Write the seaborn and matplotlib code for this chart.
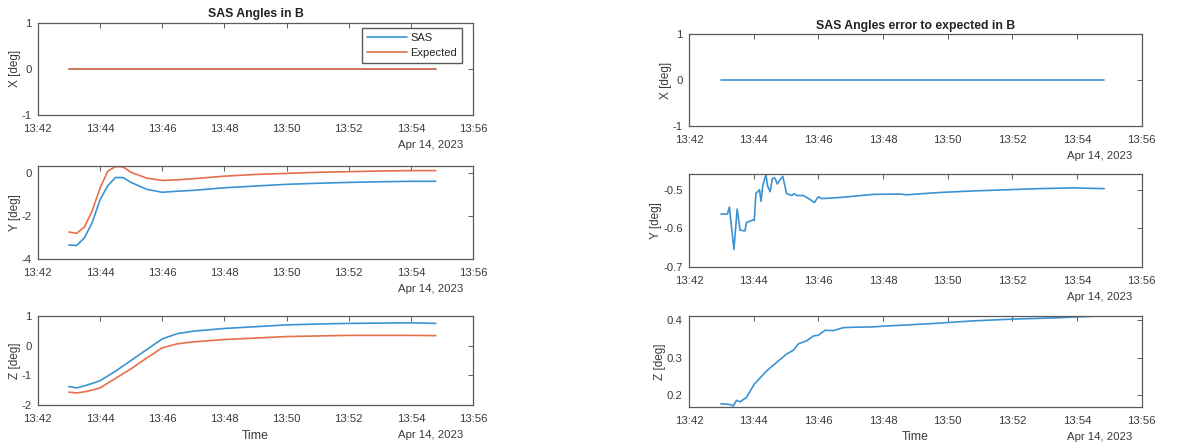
import numpy as np
import pandas as pd
import matplotlib
matplotlib.use("Agg")
import matplotlib.pyplot as plt
import matplotlib.dates as mdates
import seaborn as sns

# start of the time axis; all times below are minutes after it
T_START = "2023-04-14 13:42:00"
T_END = "2023-04-14 13:56:00"
DATE_LABEL = "Apr 14, 2023"

# left column: SAS vs expected angles
ang_min = [1.0, 1.25, 1.5, 1.75, 2.0, 2.25, 2.5, 2.75, 3.0, 3.5, 4.0, 4.5,
           5.0, 6.0, 7.0, 8.0, 9.0, 10.0, 11.0, 12.0, 12.8]
x_sas = [0.0] * len(ang_min)
x_exp = [0.0] * len(ang_min)
y_sas = [-3.33, -3.36, -3.0, -2.3, -1.24, -0.58, -0.19, -0.2, -0.42, -0.74, -0.88, -0.83,
         -0.79, -0.67, -0.59, -0.51, -0.46, -0.42, -0.39, -0.37, -0.37]
y_exp = [-2.73, -2.79, -2.5, -1.75, -0.7, 0.1, 0.32, 0.3, 0.05, -0.22, -0.33, -0.3,
         -0.25, -0.13, -0.05, 0.0, 0.05, 0.08, 0.11, 0.13, 0.13]
z_sas = [-1.37, -1.42, -1.35, -1.27, -1.18, -1.02, -0.86, -0.68, -0.5, -0.14, 0.22, 0.4,
         0.48, 0.57, 0.63, 0.69, 0.72, 0.74, 0.75, 0.76, 0.74]
z_exp = [-1.56, -1.59, -1.55, -1.49, -1.42, -1.26, -1.1, -0.94, -0.78, -0.42, -0.08, 0.06,
         0.12, 0.2, 0.25, 0.3, 0.32, 0.34, 0.34, 0.34, 0.33]

# right column: error to expected
errx_min = [0.99, 12.84]
errx = [0.0, 0.0]

erry_min = [0.99, 1.19, 1.25, 1.39, 1.49, 1.58, 1.73, 1.78, 1.99, 2.02, 2.07, 2.18, 2.23,
            2.28, 2.38, 2.43, 2.51, 2.58, 2.66, 2.73, 2.81, 2.9, 3.02, 3.18, 3.25, 3.33,
            3.54, 3.74, 3.88, 4.0, 4.1, 4.67, 5.7, 6.53, 6.73, 7.76, 8.79, 9.82, 10.86,
            11.89, 12.3, 12.84]
erry = [-0.563, -0.563, -0.545, -0.655, -0.55, -0.605, -0.607, -0.585, -0.578, -0.58,
        -0.51, -0.50, -0.53, -0.49, -0.46, -0.49, -0.505, -0.47, -0.47, -0.485, -0.475,
        -0.465, -0.51, -0.515, -0.51, -0.515, -0.515, -0.525, -0.533, -0.518, -0.523,
        -0.52, -0.512, -0.511, -0.513, -0.507, -0.503, -0.5, -0.497, -0.495, -0.496, -0.497]

errz_min = [0.99, 1.27, 1.37, 1.47, 1.58, 1.78, 2.02, 2.4, 2.81, 3.02, 3.23, 3.38, 3.64,
            3.85, 4.0, 4.21, 4.46, 4.77, 5.08, 5.7, 6.01, 6.73, 7.76, 8.07, 8.79, 10.13,
            11.37, 12.09, 12.84]
errz = [0.178, 0.176, 0.172, 0.187, 0.183, 0.195, 0.23, 0.265, 0.295, 0.31, 0.32, 0.337,
        0.345, 0.358, 0.36, 0.373, 0.372, 0.38, 0.381, 0.382, 0.384, 0.387, 0.392, 0.394,
        0.398, 0.403, 0.406, 0.409, 0.411]

BLUE = "#3b93d3"
ORANGE = "#e5714a"
AX_COL = "#5a5a5a"
TXT_COL = "#3a3a3a"


def to_time(minutes):
    return pd.Timestamp(T_START) + pd.to_timedelta(minutes, unit="min")


def style_axis(ax, ylim, yticks, ylabel, xlabel=None):
    ax.set_xlim(pd.Timestamp(T_START), pd.Timestamp(T_END))
    ax.xaxis.set_major_locator(mdates.MinuteLocator(byminute=range(0, 60, 2)))
    ax.xaxis.set_major_formatter(mdates.DateFormatter("%H:%M"))
    ax.set_ylim(*ylim)
    ax.set_yticks(yticks)
    ax.set_yticklabels([f"{v:g}" for v in yticks])
    ax.tick_params(direction="in", top=True, right=True, length=3.5, width=0.7,
                   colors=AX_COL, labelcolor=TXT_COL, labelsize=8.2)
    ax.tick_params(axis="x", pad=6.5)
    ax.tick_params(axis="y", pad=4.5)
    for sp in ax.spines.values():
        sp.set_color(AX_COL)
        sp.set_linewidth(0.9)
    ax.set_ylabel(ylabel, fontsize=8.5, color=TXT_COL, labelpad=0.5)
    if xlabel:
        ax.set_xlabel(xlabel, fontsize=8.8, color=TXT_COL, labelpad=4)
    else:
        ax.set_xlabel("")
    ax.annotate(DATE_LABEL, xy=(1, 0), xycoords="axes fraction", xytext=(-7, -18),
                textcoords="offset points", ha="right", va="top", fontsize=8.2, color=TXT_COL)


def line(ax, minutes, values, color, label=None):
    df = pd.DataFrame({"t": to_time(minutes), "v": values})
    sns.lineplot(data=df, x="t", y="v", ax=ax, color=color, linewidth=1.2,
                 estimator=None, label=label, legend=label is not None)


sns.set_style("white")
plt.rcParams["font.family"] = ["Liberation Sans", "DejaVu Sans"]

fig = plt.figure(figsize=(11.98, 4.46), dpi=100)

left = [fig.add_axes([0.0315, 0.742, 0.3634, 0.207]),
        fig.add_axes([0.0315, 0.4186, 0.3634, 0.21]),
        fig.add_axes([0.0315, 0.0913, 0.3634, 0.201])]
right = [fig.add_axes([0.5751, 0.7175, 0.3779, 0.2056]),
         fig.add_axes([0.5751, 0.402, 0.3779, 0.207]),
         fig.add_axes([0.5751, 0.088, 0.3779, 0.204])]

# left column
line(left[0], ang_min, x_sas, BLUE, "SAS")
line(left[0], ang_min, x_exp, ORANGE, "Expected")
style_axis(left[0], (-1, 1), [-1, 0, 1], "X [deg]")
left[0].legend(loc="upper right", bbox_to_anchor=(0.975, 0.94), borderaxespad=0,
               fancybox=False, edgecolor=AX_COL, fontsize=8, handlelength=3.6,
               labelspacing=0.45, borderpad=0.45, handletextpad=0.3, framealpha=1)
left[0].set_title("SAS Angles in B", fontsize=8.8, fontweight="bold", color="#222222", pad=4)

line(left[1], ang_min, y_sas, BLUE)
line(left[1], ang_min, y_exp, ORANGE)
style_axis(left[1], (-4, 0.36), [-4, -2, 0], "Y [deg]")

line(left[2], ang_min, z_sas, BLUE)
line(left[2], ang_min, z_exp, ORANGE)
style_axis(left[2], (-2, 1), [-2, -1, 0, 1], "Z [deg]", "Time")

# right column
line(right[0], errx_min, errx, BLUE)
style_axis(right[0], (-1, 1), [-1, 0, 1], "X [deg]")
right[0].set_title("SAS Angles error to expected in B", fontsize=8.8, fontweight="bold",
                   color="#222222", pad=4)

line(right[1], erry_min, erry, BLUE)
style_axis(right[1], (-0.7, -0.46), [-0.7, -0.6, -0.5], "Y [deg]")

line(right[2], errz_min, errz, BLUE)
style_axis(right[2], (0.17, 0.4115), [0.2, 0.3, 0.4], "Z [deg]", "Time")

fig.savefig("out.png", dpi=100)
